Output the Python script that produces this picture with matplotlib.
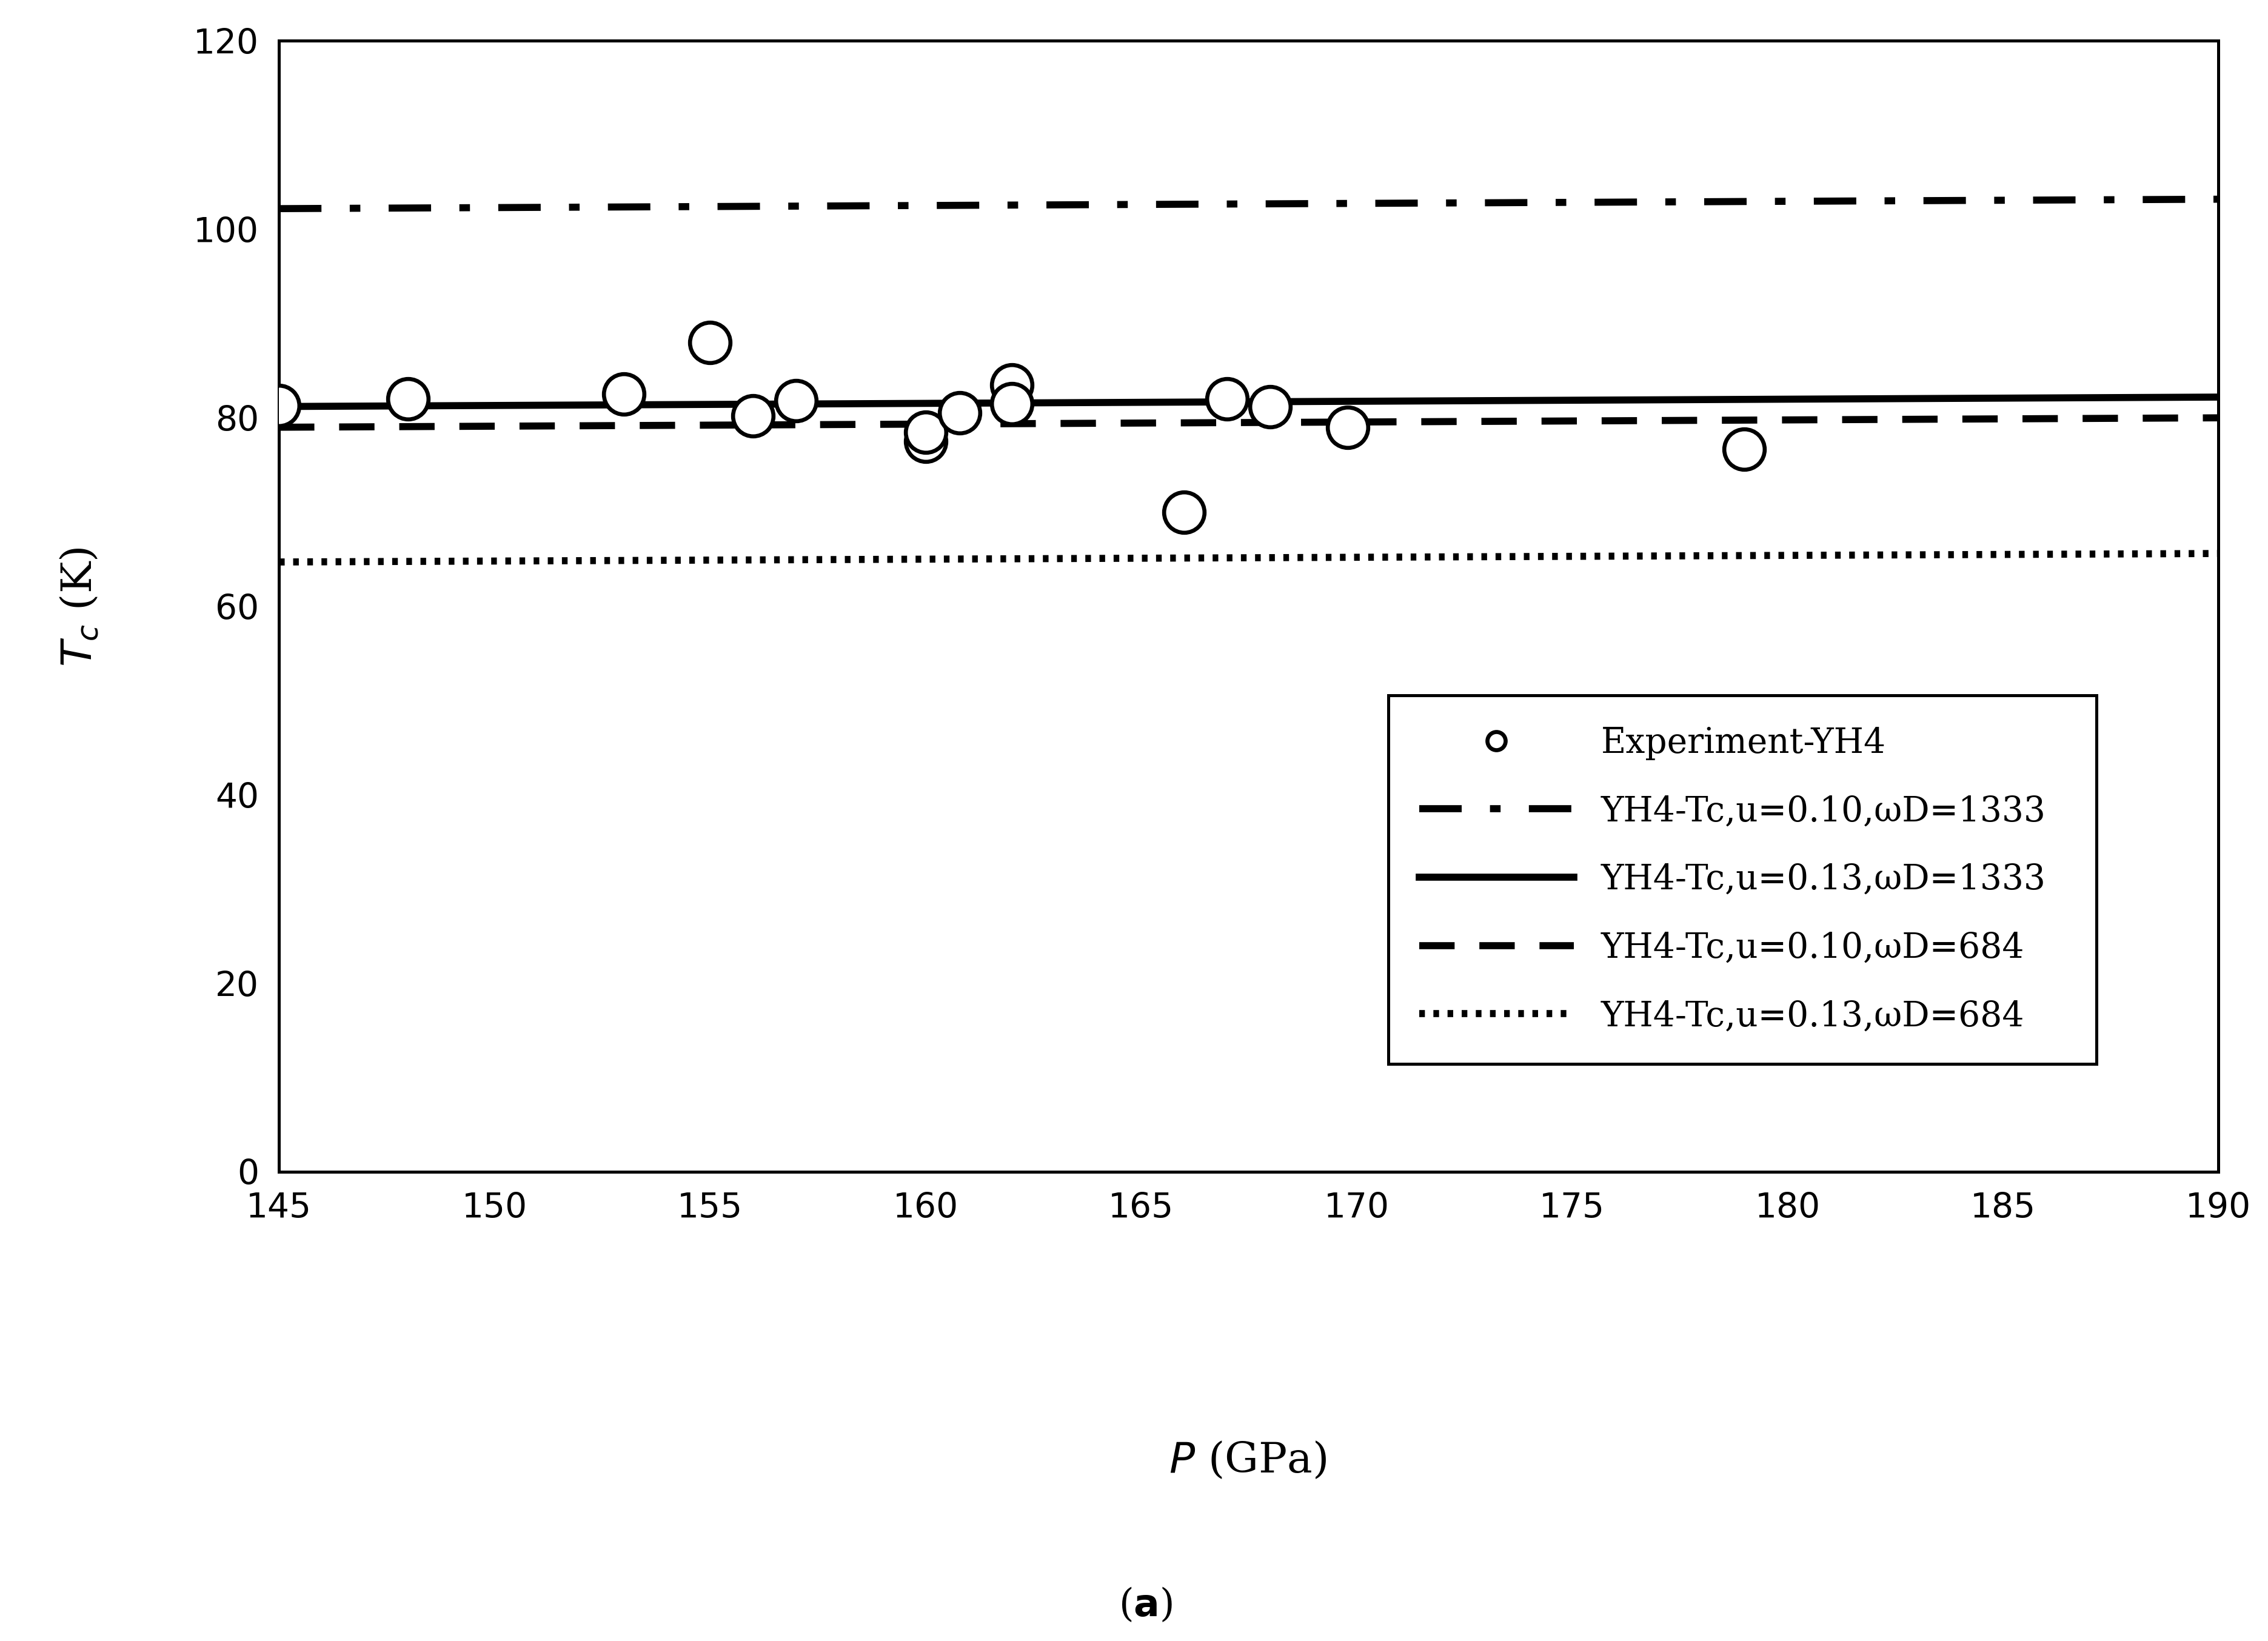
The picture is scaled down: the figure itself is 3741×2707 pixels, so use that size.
import matplotlib
matplotlib.use("Agg")
import matplotlib.pyplot as plt
import numpy as np

# experimental points
exp_p = [145, 148, 153, 155, 156, 157, 160, 160, 160.8, 162, 162, 166, 167, 168, 169.8, 179]
exp_tc = [81.3, 82.0, 82.5, 88.0, 80.2, 81.8, 77.5, 78.5, 80.5, 83.5, 81.5, 70.0, 82.0, 81.2, 79.0, 76.7]

# model curves (endpoints at 145 and 190 GPa)
line_p = [145, 190]
tc_u010_w1333 = [102.2, 103.2]
tc_u013_w1333 = [81.2, 82.2]
tc_u010_w684 = [79.0, 80.0]
tc_u013_w684 = [64.7, 65.6]

serif = "DejaVu Serif"

fig = plt.figure(figsize=(15.59, 11.28), dpi=240)
ax = fig.add_axes([0.123, 0.286, 0.855, 0.689])

ax.plot(exp_p, exp_tc, "o", ms=20, mfc="white", mec="black", mew=2.0,
        label="Experiment-YH4", zorder=5)
ax.plot(line_p, tc_u010_w1333, color="black", lw=3.5, dashes=(6, 4, 1.5, 4),
        label="YH4-Tc,u=0.10,ωD=1333")
ax.plot(line_p, tc_u013_w1333, color="black", lw=3.5, label="YH4-Tc,u=0.13,ωD=1333")
ax.plot(line_p, tc_u010_w684, color="black", lw=3.5, dashes=(5, 3.5),
        label="YH4-Tc,u=0.10,ωD=684")
ax.plot(line_p, tc_u013_w684, color="black", lw=3.5, dashes=(0.8, 1.2),
        label="YH4-Tc,u=0.13,ωD=684")

ax.set_xlim(145, 190)
ax.set_ylim(0, 120)
ax.set_xticks(np.arange(145, 191, 5))
ax.set_yticks(np.arange(0, 121, 20))
ax.tick_params(labelsize=17, length=0, pad=10)
for s in ax.spines.values():
    s.set_linewidth(1.5)

fig.text(0.035, 0.63, r"$T_c$ (K)", rotation=90, fontsize=21, family=serif,
         ha="center", va="center")
fig.text(0.55, 0.11, r"$P$ (GPa)", fontsize=21, family=serif, ha="center", va="center")
fig.text(0.505, 0.022, r"($\mathbf{a}$)", fontsize=19, family=serif, ha="center", va="center")

leg = ax.legend(loc="lower left", bbox_to_anchor=(0.563, 0.08, 0.383, 0.327),
                mode="expand", prop={"family": serif, "size": 17}, fancybox=False,
                edgecolor="black", framealpha=1, handlelength=4.5, labelspacing=1.0,
                borderpad=0.9, markerscale=0.45)
leg.get_frame().set_linewidth(1.5)

fig.savefig("out.png")
